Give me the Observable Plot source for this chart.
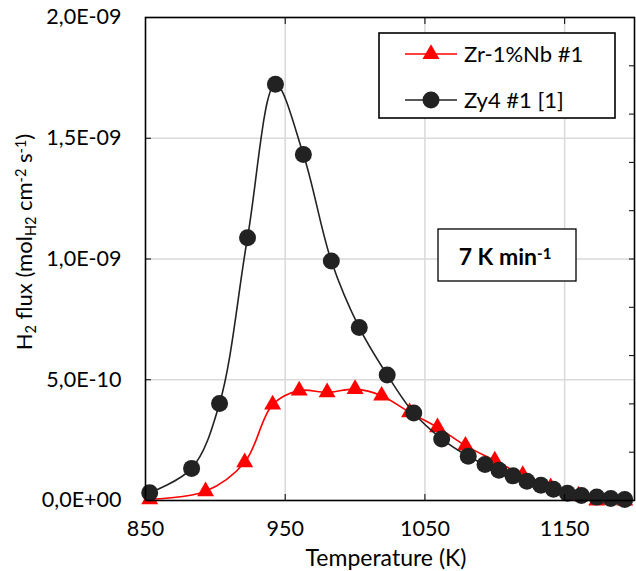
<!DOCTYPE html>
<html><head><meta charset="utf-8">
<script src="https://cdn.jsdelivr.net/npm/d3@7"></script>
<script src="https://cdn.jsdelivr.net/npm/@observablehq/plot@0.6"></script>
<style>body{margin:0;background:#fff;} svg{display:block}</style>
</head><body><div id="chart"></div>
<script>
const seriesNames = ["Zr-1%Nb #1", "Zy4 #1 [1]"];
const nbTemp = [853, 893, 921, 941, 960, 980, 1000, 1019, 1039, 1059, 1079, 1100, 1120, 1140, 1160, 1173, 1193];
const nbFlux = [0.005e-9, 0.038e-9, 0.158e-9, 0.397e-9, 0.455e-9, 0.448e-9, 0.461e-9, 0.434e-9, 0.365e-9, 0.303e-9, 0.227e-9, 0.165e-9, 0.105e-9, 0.055e-9, 0.02e-9, 0.0, 0.0];
const zyTemp = [853, 883, 903, 923, 943, 963, 983, 1003, 1023, 1042, 1062, 1081, 1093, 1103, 1113, 1123, 1133, 1142, 1152, 1162, 1173, 1183, 1193];
const zyFlux = [0.032e-9, 0.133e-9, 0.402e-9, 1.088e-9, 1.724e-9, 1.433e-9, 0.992e-9, 0.716e-9, 0.52e-9, 0.362e-9, 0.255e-9, 0.183e-9, 0.149e-9, 0.125e-9, 0.102e-9, 0.080e-9, 0.063e-9, 0.047e-9, 0.030e-9, 0.021e-9, 0.014e-9, 0.008e-9, 0.004e-9];
const xTicks = [850, 950, 1050, 1150];
const yTicks = [0, 5e-10, 1e-9, 1.5e-9, 2e-9];
const yTickLabels = ["0,0E+00", "5,0E-10", "1,0E-09", "1,5E-09", "2,0E-09"];
const rightTicks = [0, 2e-10, 4e-10, 6e-10, 8e-10, 1e-9, 1.2e-9, 1.4e-9, 1.6e-9, 1.8e-9, 2e-9];
const xLabel = "Temperature (K)";
const rateLabel = "7 K min";

const nb = nbTemp.map((t, i) => ({t, f: nbFlux[i]}));
const zy = zyTemp.map((t, i) => ({t, f: zyFlux[i]}));
const red = "#ff0000", blk = "#222222";

const plot = Plot.plot({
  width: 636, height: 571,
  marginLeft: 145, marginRight: 2, marginTop: 17, marginBottom: 71,
  style: {fontFamily: "Lato", fontSize: "21.5px", color: "#000", background: "#fff"},
  x: {domain: [850, 1200]},
  y: {domain: [0, 2e-9]},
  marks: [
    Plot.gridX(xTicks.slice(1), {stroke: "#d9d9d9", strokeOpacity: 1, strokeWidth: 1.5}),
    Plot.gridY(yTicks.slice(1), {stroke: "#d9d9d9", strokeOpacity: 1, strokeWidth: 1.5}),
    Plot.line(nb, {x: "t", y: "f", stroke: red, strokeWidth: 1.6, curve: "catmull-rom"}),
    Plot.dot(nb, {x: "t", y: "f", symbol: "triangle", r: 6.3, fill: red}),
    Plot.line(zy, {x: "t", y: "f", stroke: blk, strokeWidth: 1.6, curve: "catmull-rom"}),
    Plot.dot(zy, {x: "t", y: "f", r: 8.5, fill: blk}),
    Plot.frame({stroke: "#000", strokeWidth: 1.6}),
    Plot.axisX(xTicks, {anchor: "bottom", tickSize: -6, tickPadding: 26, label: null, tickFormat: d => String(d)}),
    Plot.axisX(xTicks.slice(1), {anchor: "top", tickSize: -6, label: null, tickFormat: () => ""}),
    Plot.axisY(yTicks, {anchor: "left", tickSize: -6, tickPadding: 30, label: null, tickFormat: d => yTickLabels[yTicks.indexOf(d)]}),
    Plot.axisY(rightTicks, {anchor: "right", tickSize: -6, label: null, tickFormat: () => ""})
  ]
});
document.getElementById("chart").append(plot);

const svg = d3.select(plot);
// x axis title
svg.append("text").attr("x", 386).attr("y", 558).attr("dy", "0.35em")
  .attr("text-anchor", "middle").attr("font-family", "Lato").attr("font-size", 23).text(xLabel);
// y axis title with sub/superscripts
const yl = svg.append("text").attr("transform", "translate(24,242) rotate(-90)")
  .attr("text-anchor", "middle").attr("dy", "0.35em").attr("font-family", "Lato").attr("font-size", 22);
const parts = [["H", 0], ["2", 1], [" flux (mol", 0], ["H2", 1], [" cm", 0], ["-2", -1], [" s", 0], ["-1", -1], [")", 0]];
parts.forEach(([s, k]) => {
  const sp = yl.append("tspan").text(s);
  if (k === 1) sp.attr("baseline-shift", "-25%").attr("font-size", 14.5);
  if (k === -1) sp.attr("baseline-shift", "40%").attr("font-size", 14.5);
});
// legend
const lg = svg.append("g").attr("font-family", "Lato").attr("font-size", 22).attr("text-anchor", "start");
lg.append("rect").attr("x", 379).attr("y", 33).attr("width", 236).attr("height", 85)
  .attr("fill", "#fff").attr("stroke", "#000").attr("stroke-width", 1.6);
const entries = [{name: seriesNames[0], c: red, sym: d3.symbolTriangle, size: Math.PI * 6.3 * 6.3, y: 54},
                 {name: seriesNames[1], c: blk, sym: d3.symbolCircle, size: Math.PI * 8.5 * 8.5, y: 100}];
entries.forEach(e => {
  lg.append("line").attr("x1", 405).attr("x2", 457).attr("y1", e.y).attr("y2", e.y).attr("stroke", e.c).attr("stroke-width", 1.6);
  lg.append("path").attr("d", d3.symbol(e.sym, e.size)()).attr("transform", `translate(431,${e.y})`).attr("fill", e.c);
  lg.append("text").attr("x", 464).attr("y", e.y).attr("dy", "0.35em").attr("text-anchor", "start").text(e.name);
});
// rate box
const rb = svg.append("g").attr("font-family", "Lato").attr("font-size", 23).attr("font-weight", "bold");
rb.append("rect").attr("x", 438).attr("y", 229).attr("width", 138).attr("height", 52)
  .attr("fill", "#fff").attr("stroke", "#000").attr("stroke-width", 1.3);
const rt = rb.append("text").attr("x", 505).attr("y", 257).attr("dy", "0.35em").attr("text-anchor", "middle");
rt.append("tspan").text(rateLabel);
rt.append("tspan").attr("baseline-shift", "40%").attr("font-size", 15).text("-1");
</script></body></html>
